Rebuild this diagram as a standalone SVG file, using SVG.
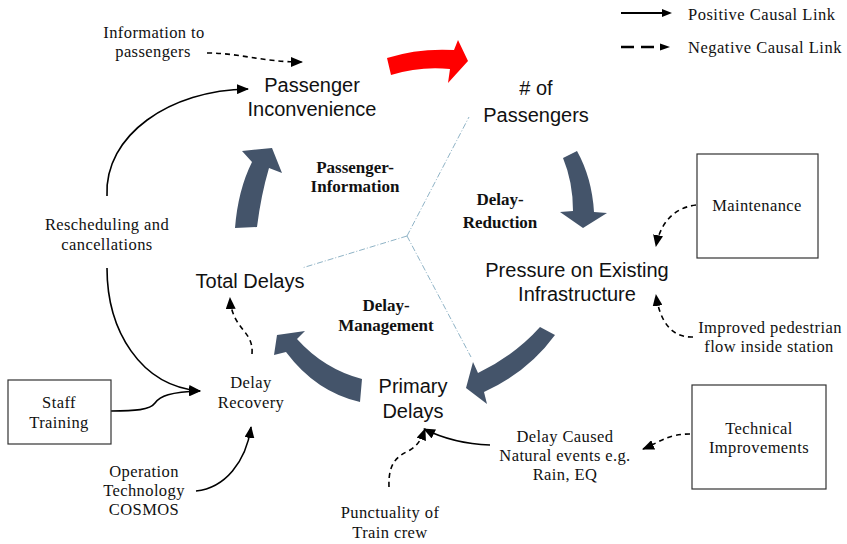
<svg xmlns="http://www.w3.org/2000/svg" width="847" height="544" viewBox="0 0 847 544">
<defs>
<marker id="ah" viewBox="0 0 12 10" refX="11" refY="5" markerWidth="12" markerHeight="10" markerUnits="userSpaceOnUse" orient="auto">
<path d="M0,0 L12,5 L0,10 Z" fill="#000"/>
</marker>
</defs>
<style>
.sans{font-family:"Liberation Sans",Arial,sans-serif;font-size:20px;fill:#111;text-anchor:middle}
.ser{font-family:"Liberation Serif","Times New Roman",serif;font-size:16.5px;letter-spacing:0.4px;fill:#111;text-anchor:middle}
.bold{font-family:"Liberation Serif","Times New Roman",serif;font-size:17px;font-weight:bold;fill:#111;text-anchor:middle}
.leg{font-family:"Liberation Serif","Times New Roman",serif;font-size:16.5px;letter-spacing:0.5px;fill:#111}
.box{fill:#fff;stroke:#333;stroke-width:1.2}
.pos{fill:none;stroke:#000;stroke-width:1.6;marker-end:url(#ah)}
.neg{fill:none;stroke:#000;stroke-width:1.6;stroke-dasharray:5 4;marker-end:url(#ah)}
.big{fill:#44546a}
.div{fill:none;stroke:#8fb3c6;stroke-width:1;stroke-dasharray:6 2 1 2}
</style>
<rect width="847" height="544" fill="#fff"/>

<g id="dividers">
<path class="div" d="M407,236 L469,117"/>
<path class="div" d="M407,236 L302,268"/>
<path class="div" d="M407,236 L471,357"/>
</g>

<g id="loop-arrows">
<path fill="#ff0000" d="M387,58 Q418,48 454,50 L458,40 L468,61 L448,83 L450,69 Q420,66 391,75 Z"/>
<path class="big" d="M235,228 Q238,190 252,162 L242,151 L272,148 L282,173 L269,168 Q261,195 257,227 Z"/>
<path class="big" d="M563,158 L577,151 Q592,178 594,212 L607,213 L583,228 L560,212 L573,211 Q573,182 563,158 Z"/>
<path class="big" d="M540,327 L555,335 Q528,372 484,392 L487,404 L466,388 L473,362 L478,373 Q515,355 540,327 Z"/>
<path class="big" d="M362,379 L360,402 Q316,392 286,352 L274,355 L277,335 L305,331 L297,339 Q324,369 362,379 Z"/>
</g>

<g id="connectors">
<path class="neg" d="M207,53 C240,53 262,62 302,62"/>
<path class="pos" d="M107,196 C104,135 170,90 248,89"/>
<path class="pos" d="M107,268 C107,330 140,386 200,391"/>
<path class="pos" d="M111,411 C135,411 150,410 155,403 C160,396 170,392 200,391"/>
<path class="pos" d="M196,491 C225,488 246,462 251,427"/>
<path class="neg" d="M252,354 C254,330 232,330 230,298"/>
<path class="neg" d="M389,487 C388,462 398,456 410,450 C418,445 421,440 425,429"/>
<path class="pos" d="M490,445 C462,444 442,438 424,429"/>
<path class="neg" d="M690,434 C668,434 660,442 643,449"/>
<path class="neg" d="M693,337 C672,338 660,322 656,295"/>
<path class="neg" d="M696,205 C672,208 660,225 656,246"/>
</g>

<g id="legend">
<path fill="none" stroke="#000" stroke-width="2" d="M621,13 L662,13"/>
<path d="M662,9 L672,13 L662,17 Z"/>
<path fill="none" stroke="#000" stroke-width="2.5" d="M621,47 L634,47 M641,47 L654,47"/>
<path d="M660,43.5 L670,47 L660,50.5 Z"/>
<text class="leg" x="688" y="20">Positive Causal Link</text>
<text class="leg" x="688" y="53">Negative Causal Link</text>
</g>

<g id="passenger-inconvenience"><text class="sans" x="312" y="92">Passenger</text><text class="sans" x="312" y="116">Inconvenience</text></g>
<g id="num-passengers"><text class="sans" x="536" y="95"># of</text><text class="sans" x="536" y="122">Passengers</text></g>
<g id="pressure"><text class="sans" x="577" y="277">Pressure on Existing</text><text class="sans" x="577" y="301">Infrastructure</text></g>
<g id="primary-delays"><text class="sans" x="413" y="393">Primary</text><text class="sans" x="413" y="418">Delays</text></g>
<g id="total-delays"><text class="sans" x="250" y="288">Total Delays</text></g>

<g id="loop-passenger-information"><text class="bold" x="355" y="173">Passenger-</text><text class="bold" x="355" y="192">Information</text></g>
<g id="loop-delay-reduction"><text class="bold" x="500" y="205">Delay-</text><text class="bold" x="500" y="228">Reduction</text></g>
<g id="loop-delay-management"><text class="bold" x="386" y="311">Delay-</text><text class="bold" x="386" y="331">Management</text></g>

<g id="info-to-passengers"><text class="ser" x="154" y="38">Information to</text><text class="ser" x="153" y="57">passengers</text></g>
<g id="rescheduling"><text class="ser" x="107" y="230">Rescheduling and</text><text class="ser" x="107" y="250">cancellations</text></g>
<g id="delay-recovery"><text class="ser" x="251" y="388">Delay</text><text class="ser" x="251" y="408">Recovery</text></g>
<g id="staff-training"><rect class="box" x="8" y="380" width="103" height="64"/><text class="ser" x="59" y="408">Staff</text><text class="ser" x="59" y="428">Training</text></g>
<g id="operation-technology"><text class="ser" x="144" y="477">Operation</text><text class="ser" x="144" y="496">Technology</text><text class="ser" x="144" y="515">COSMOS</text></g>
<g id="punctuality"><text class="ser" x="390" y="518">Punctuality of</text><text class="ser" x="390" y="538">Train crew</text></g>
<g id="delay-caused"><text class="ser" x="565" y="442">Delay Caused</text><text class="ser" x="565" y="461">Natural events e.g.</text><text class="ser" x="565" y="480">Rain, EQ</text></g>
<g id="technical-improvements"><rect class="box" x="692" y="385" width="134" height="104"/><text class="ser" x="759" y="434">Technical</text><text class="ser" x="759" y="453">Improvements</text></g>
<g id="maintenance"><rect class="box" x="697" y="154" width="121" height="104"/><text class="ser" x="757" y="211">Maintenance</text></g>
<g id="improved-pedestrian"><text class="ser" x="770" y="333">Improved pedestrian</text><text class="ser" x="769" y="352">flow inside station</text></g>
</svg>
